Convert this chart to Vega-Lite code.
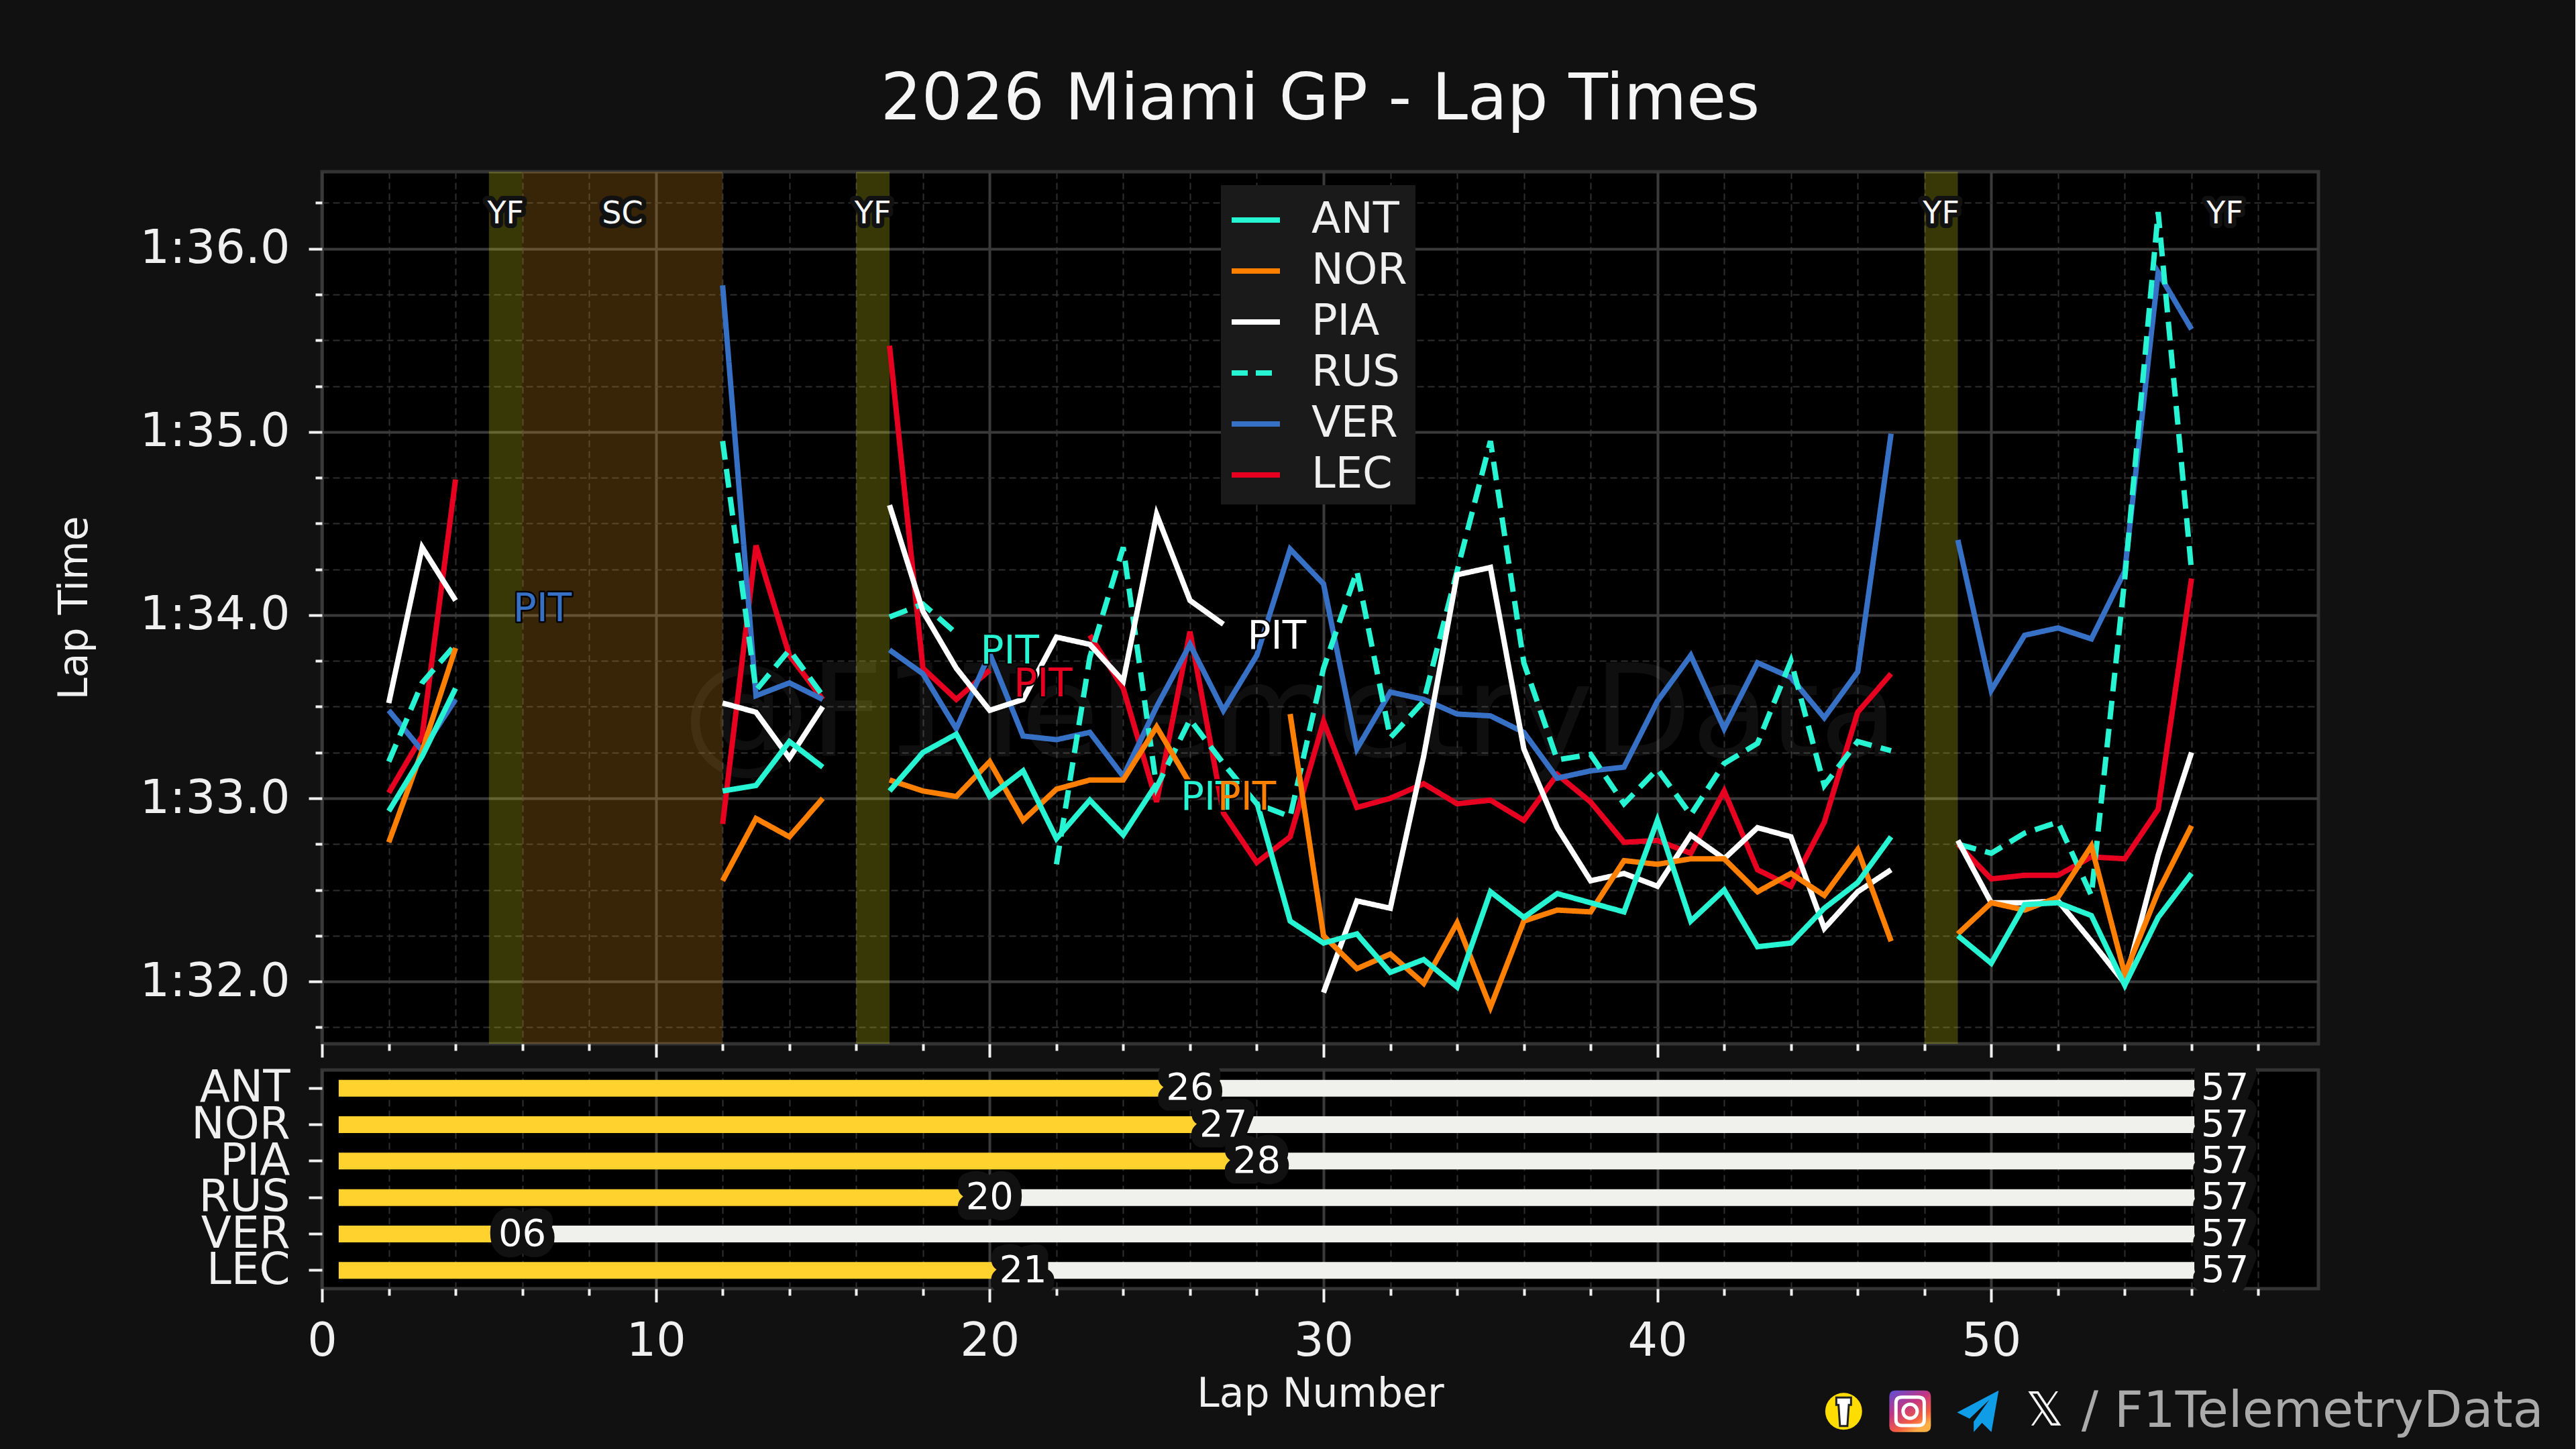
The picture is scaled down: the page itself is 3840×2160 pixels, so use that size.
{
"$schema":"https://vega.github.io/schema/vega-lite/v6.json",
"background":"#111111",
"padding":{"left":78,"top":98,"right":44,"bottom":35},
"config":{"font":"DejaVu Sans","view":{"fill":"#000000","stroke":"#333333","strokeWidth":5},"axis":{"domain":false,"labelColor":"#f0f0f0","titleColor":"#f0f0f0","tickColor":"#f0f0f0","tickWidth":4,"titleFontWeight":"normal","labelLimit":400,"labelFlush":false}},
"spacing":5,
"resolve":{"scale":{"color":"independent"}},
"datasets":{
"laps":[
{"driver":"LEC","stint":1,"lap":2,"t":93.03},{"driver":"LEC","stint":1,"lap":3,"t":93.34},{"driver":"LEC","stint":1,"lap":4,"t":94.74},
{"driver":"LEC","stint":2,"lap":12,"t":92.86},{"driver":"LEC","stint":2,"lap":13,"t":94.38},{"driver":"LEC","stint":2,"lap":14,"t":93.78},{"driver":"LEC","stint":2,"lap":15,"t":93.54},
{"driver":"LEC","stint":3,"lap":17,"t":95.47},{"driver":"LEC","stint":3,"lap":18,"t":93.71},{"driver":"LEC","stint":3,"lap":19,"t":93.54},{"driver":"LEC","stint":3,"lap":20,"t":93.7},
{"driver":"LEC","stint":4,"lap":23,"t":93.89},{"driver":"LEC","stint":4,"lap":24,"t":93.6},{"driver":"LEC","stint":4,"lap":25,"t":92.98},{"driver":"LEC","stint":4,"lap":26,"t":93.91},{"driver":"LEC","stint":4,"lap":27,"t":92.92},{"driver":"LEC","stint":4,"lap":28,"t":92.65},{"driver":"LEC","stint":4,"lap":29,"t":92.79},{"driver":"LEC","stint":4,"lap":30,"t":93.42},{"driver":"LEC","stint":4,"lap":31,"t":92.95},{"driver":"LEC","stint":4,"lap":32,"t":93.0},{"driver":"LEC","stint":4,"lap":33,"t":93.08},{"driver":"LEC","stint":4,"lap":34,"t":92.97},{"driver":"LEC","stint":4,"lap":35,"t":92.99},{"driver":"LEC","stint":4,"lap":36,"t":92.88},{"driver":"LEC","stint":4,"lap":37,"t":93.13},{"driver":"LEC","stint":4,"lap":38,"t":92.98},{"driver":"LEC","stint":4,"lap":39,"t":92.76},{"driver":"LEC","stint":4,"lap":40,"t":92.77},{"driver":"LEC","stint":4,"lap":41,"t":92.7},{"driver":"LEC","stint":4,"lap":42,"t":93.04},{"driver":"LEC","stint":4,"lap":43,"t":92.61},{"driver":"LEC","stint":4,"lap":44,"t":92.52},{"driver":"LEC","stint":4,"lap":45,"t":92.87},{"driver":"LEC","stint":4,"lap":46,"t":93.47},{"driver":"LEC","stint":4,"lap":47,"t":93.68},
{"driver":"LEC","stint":5,"lap":49,"t":92.75},{"driver":"LEC","stint":5,"lap":50,"t":92.56},{"driver":"LEC","stint":5,"lap":51,"t":92.58},{"driver":"LEC","stint":5,"lap":52,"t":92.58},{"driver":"LEC","stint":5,"lap":53,"t":92.68},{"driver":"LEC","stint":5,"lap":54,"t":92.67},{"driver":"LEC","stint":5,"lap":55,"t":92.94},{"driver":"LEC","stint":5,"lap":56,"t":94.2},
{"driver":"VER","stint":1,"lap":2,"t":93.48},{"driver":"VER","stint":1,"lap":3,"t":93.26},{"driver":"VER","stint":1,"lap":4,"t":93.54},
{"driver":"VER","stint":2,"lap":12,"t":95.8},{"driver":"VER","stint":2,"lap":13,"t":93.56},{"driver":"VER","stint":2,"lap":14,"t":93.63},{"driver":"VER","stint":2,"lap":15,"t":93.54},
{"driver":"VER","stint":3,"lap":17,"t":93.81},{"driver":"VER","stint":3,"lap":18,"t":93.68},{"driver":"VER","stint":3,"lap":19,"t":93.38},{"driver":"VER","stint":3,"lap":20,"t":93.79},{"driver":"VER","stint":3,"lap":21,"t":93.34},{"driver":"VER","stint":3,"lap":22,"t":93.32},{"driver":"VER","stint":3,"lap":23,"t":93.36},{"driver":"VER","stint":3,"lap":24,"t":93.12},{"driver":"VER","stint":3,"lap":25,"t":93.5},{"driver":"VER","stint":3,"lap":26,"t":93.84},{"driver":"VER","stint":3,"lap":27,"t":93.48},{"driver":"VER","stint":3,"lap":28,"t":93.78},{"driver":"VER","stint":3,"lap":29,"t":94.36},{"driver":"VER","stint":3,"lap":30,"t":94.17},{"driver":"VER","stint":3,"lap":31,"t":93.27},{"driver":"VER","stint":3,"lap":32,"t":93.58},{"driver":"VER","stint":3,"lap":33,"t":93.54},{"driver":"VER","stint":3,"lap":34,"t":93.46},{"driver":"VER","stint":3,"lap":35,"t":93.45},{"driver":"VER","stint":3,"lap":36,"t":93.36},{"driver":"VER","stint":3,"lap":37,"t":93.11},{"driver":"VER","stint":3,"lap":38,"t":93.15},{"driver":"VER","stint":3,"lap":39,"t":93.17},{"driver":"VER","stint":3,"lap":40,"t":93.53},{"driver":"VER","stint":3,"lap":41,"t":93.78},{"driver":"VER","stint":3,"lap":42,"t":93.38},{"driver":"VER","stint":3,"lap":43,"t":93.74},{"driver":"VER","stint":3,"lap":44,"t":93.66},{"driver":"VER","stint":3,"lap":45,"t":93.44},{"driver":"VER","stint":3,"lap":46,"t":93.69},{"driver":"VER","stint":3,"lap":47,"t":94.99},
{"driver":"VER","stint":4,"lap":49,"t":94.41},{"driver":"VER","stint":4,"lap":50,"t":93.59},{"driver":"VER","stint":4,"lap":51,"t":93.89},{"driver":"VER","stint":4,"lap":52,"t":93.93},{"driver":"VER","stint":4,"lap":53,"t":93.87},{"driver":"VER","stint":4,"lap":54,"t":94.24},{"driver":"VER","stint":4,"lap":55,"t":95.87},{"driver":"VER","stint":4,"lap":56,"t":95.56},
{"driver":"RUS","stint":1,"lap":2,"t":93.2},{"driver":"RUS","stint":1,"lap":3,"t":93.63},{"driver":"RUS","stint":1,"lap":4,"t":93.84},
{"driver":"RUS","stint":2,"lap":12,"t":94.95},{"driver":"RUS","stint":2,"lap":13,"t":93.59},{"driver":"RUS","stint":2,"lap":14,"t":93.81},{"driver":"RUS","stint":2,"lap":15,"t":93.56},
{"driver":"RUS","stint":3,"lap":17,"t":93.99},{"driver":"RUS","stint":3,"lap":18,"t":94.06},{"driver":"RUS","stint":3,"lap":19,"t":93.9},
{"driver":"RUS","stint":4,"lap":22,"t":92.64},{"driver":"RUS","stint":4,"lap":23,"t":93.77},{"driver":"RUS","stint":4,"lap":24,"t":94.37},{"driver":"RUS","stint":4,"lap":25,"t":93.06},{"driver":"RUS","stint":4,"lap":26,"t":93.43},{"driver":"RUS","stint":4,"lap":27,"t":93.19},{"driver":"RUS","stint":4,"lap":28,"t":92.97},{"driver":"RUS","stint":4,"lap":29,"t":92.9},{"driver":"RUS","stint":4,"lap":30,"t":93.71},{"driver":"RUS","stint":4,"lap":31,"t":94.24},{"driver":"RUS","stint":4,"lap":32,"t":93.33},{"driver":"RUS","stint":4,"lap":33,"t":93.53},{"driver":"RUS","stint":4,"lap":34,"t":94.24},{"driver":"RUS","stint":4,"lap":35,"t":94.95},{"driver":"RUS","stint":4,"lap":36,"t":93.74},{"driver":"RUS","stint":4,"lap":37,"t":93.21},{"driver":"RUS","stint":4,"lap":38,"t":93.24},{"driver":"RUS","stint":4,"lap":39,"t":92.97},{"driver":"RUS","stint":4,"lap":40,"t":93.16},{"driver":"RUS","stint":4,"lap":41,"t":92.91},{"driver":"RUS","stint":4,"lap":42,"t":93.19},{"driver":"RUS","stint":4,"lap":43,"t":93.3},{"driver":"RUS","stint":4,"lap":44,"t":93.75},{"driver":"RUS","stint":4,"lap":45,"t":93.07},{"driver":"RUS","stint":4,"lap":46,"t":93.31},{"driver":"RUS","stint":4,"lap":47,"t":93.26},
{"driver":"RUS","stint":5,"lap":49,"t":92.75},{"driver":"RUS","stint":5,"lap":50,"t":92.7},{"driver":"RUS","stint":5,"lap":51,"t":92.81},{"driver":"RUS","stint":5,"lap":52,"t":92.87},{"driver":"RUS","stint":5,"lap":53,"t":92.47},{"driver":"RUS","stint":5,"lap":54,"t":94.2},{"driver":"RUS","stint":5,"lap":55,"t":96.2},{"driver":"RUS","stint":5,"lap":56,"t":94.24},
{"driver":"PIA","stint":1,"lap":2,"t":93.52},{"driver":"PIA","stint":1,"lap":3,"t":94.37},{"driver":"PIA","stint":1,"lap":4,"t":94.08},
{"driver":"PIA","stint":2,"lap":12,"t":93.52},{"driver":"PIA","stint":2,"lap":13,"t":93.47},{"driver":"PIA","stint":2,"lap":14,"t":93.22},{"driver":"PIA","stint":2,"lap":15,"t":93.5},
{"driver":"PIA","stint":3,"lap":17,"t":94.6},{"driver":"PIA","stint":3,"lap":18,"t":94.02},{"driver":"PIA","stint":3,"lap":19,"t":93.71},{"driver":"PIA","stint":3,"lap":20,"t":93.48},{"driver":"PIA","stint":3,"lap":21,"t":93.54},{"driver":"PIA","stint":3,"lap":22,"t":93.88},{"driver":"PIA","stint":3,"lap":23,"t":93.84},{"driver":"PIA","stint":3,"lap":24,"t":93.64},{"driver":"PIA","stint":3,"lap":25,"t":94.55},{"driver":"PIA","stint":3,"lap":26,"t":94.08},{"driver":"PIA","stint":3,"lap":27,"t":93.95},
{"driver":"PIA","stint":4,"lap":30,"t":91.94},{"driver":"PIA","stint":4,"lap":31,"t":92.44},{"driver":"PIA","stint":4,"lap":32,"t":92.4},{"driver":"PIA","stint":4,"lap":33,"t":93.23},{"driver":"PIA","stint":4,"lap":34,"t":94.22},{"driver":"PIA","stint":4,"lap":35,"t":94.26},{"driver":"PIA","stint":4,"lap":36,"t":93.27},{"driver":"PIA","stint":4,"lap":37,"t":92.84},{"driver":"PIA","stint":4,"lap":38,"t":92.55},{"driver":"PIA","stint":4,"lap":39,"t":92.59},{"driver":"PIA","stint":4,"lap":40,"t":92.52},{"driver":"PIA","stint":4,"lap":41,"t":92.8},{"driver":"PIA","stint":4,"lap":42,"t":92.67},{"driver":"PIA","stint":4,"lap":43,"t":92.84},{"driver":"PIA","stint":4,"lap":44,"t":92.79},{"driver":"PIA","stint":4,"lap":45,"t":92.29},{"driver":"PIA","stint":4,"lap":46,"t":92.49},{"driver":"PIA","stint":4,"lap":47,"t":92.61},
{"driver":"PIA","stint":5,"lap":49,"t":92.77},{"driver":"PIA","stint":5,"lap":50,"t":92.43},{"driver":"PIA","stint":5,"lap":51,"t":92.43},{"driver":"PIA","stint":5,"lap":52,"t":92.44},{"driver":"PIA","stint":5,"lap":53,"t":92.22},{"driver":"PIA","stint":5,"lap":54,"t":91.99},{"driver":"PIA","stint":5,"lap":55,"t":92.69},{"driver":"PIA","stint":5,"lap":56,"t":93.25},
{"driver":"NOR","stint":1,"lap":2,"t":92.76},{"driver":"NOR","stint":1,"lap":3,"t":93.26},{"driver":"NOR","stint":1,"lap":4,"t":93.82},
{"driver":"NOR","stint":2,"lap":12,"t":92.55},{"driver":"NOR","stint":2,"lap":13,"t":92.89},{"driver":"NOR","stint":2,"lap":14,"t":92.79},{"driver":"NOR","stint":2,"lap":15,"t":93.0},
{"driver":"NOR","stint":3,"lap":17,"t":93.1},{"driver":"NOR","stint":3,"lap":18,"t":93.04},{"driver":"NOR","stint":3,"lap":19,"t":93.01},{"driver":"NOR","stint":3,"lap":20,"t":93.2},{"driver":"NOR","stint":3,"lap":21,"t":92.88},{"driver":"NOR","stint":3,"lap":22,"t":93.05},{"driver":"NOR","stint":3,"lap":23,"t":93.1},{"driver":"NOR","stint":3,"lap":24,"t":93.1},{"driver":"NOR","stint":3,"lap":25,"t":93.39},{"driver":"NOR","stint":3,"lap":26,"t":93.08},
{"driver":"NOR","stint":4,"lap":29,"t":93.46},{"driver":"NOR","stint":4,"lap":30,"t":92.25},{"driver":"NOR","stint":4,"lap":31,"t":92.07},{"driver":"NOR","stint":4,"lap":32,"t":92.15},{"driver":"NOR","stint":4,"lap":33,"t":91.99},{"driver":"NOR","stint":4,"lap":34,"t":92.32},{"driver":"NOR","stint":4,"lap":35,"t":91.86},{"driver":"NOR","stint":4,"lap":36,"t":92.33},{"driver":"NOR","stint":4,"lap":37,"t":92.39},{"driver":"NOR","stint":4,"lap":38,"t":92.38},{"driver":"NOR","stint":4,"lap":39,"t":92.66},{"driver":"NOR","stint":4,"lap":40,"t":92.64},{"driver":"NOR","stint":4,"lap":41,"t":92.67},{"driver":"NOR","stint":4,"lap":42,"t":92.67},{"driver":"NOR","stint":4,"lap":43,"t":92.49},{"driver":"NOR","stint":4,"lap":44,"t":92.59},{"driver":"NOR","stint":4,"lap":45,"t":92.47},{"driver":"NOR","stint":4,"lap":46,"t":92.72},{"driver":"NOR","stint":4,"lap":47,"t":92.22},
{"driver":"NOR","stint":5,"lap":49,"t":92.26},{"driver":"NOR","stint":5,"lap":50,"t":92.43},{"driver":"NOR","stint":5,"lap":51,"t":92.39},{"driver":"NOR","stint":5,"lap":52,"t":92.46},{"driver":"NOR","stint":5,"lap":53,"t":92.74},{"driver":"NOR","stint":5,"lap":54,"t":92.04},{"driver":"NOR","stint":5,"lap":55,"t":92.49},{"driver":"NOR","stint":5,"lap":56,"t":92.85},
{"driver":"ANT","stint":1,"lap":2,"t":92.93},{"driver":"ANT","stint":1,"lap":3,"t":93.23},{"driver":"ANT","stint":1,"lap":4,"t":93.6},
{"driver":"ANT","stint":2,"lap":12,"t":93.04},{"driver":"ANT","stint":2,"lap":13,"t":93.07},{"driver":"ANT","stint":2,"lap":14,"t":93.31},{"driver":"ANT","stint":2,"lap":15,"t":93.17},
{"driver":"ANT","stint":3,"lap":17,"t":93.04},{"driver":"ANT","stint":3,"lap":18,"t":93.25},{"driver":"ANT","stint":3,"lap":19,"t":93.35},{"driver":"ANT","stint":3,"lap":20,"t":93.01},{"driver":"ANT","stint":3,"lap":21,"t":93.15},{"driver":"ANT","stint":3,"lap":22,"t":92.78},{"driver":"ANT","stint":3,"lap":23,"t":92.99},{"driver":"ANT","stint":3,"lap":24,"t":92.8},{"driver":"ANT","stint":3,"lap":25,"t":93.08},
{"driver":"ANT","stint":4,"lap":28,"t":92.98},{"driver":"ANT","stint":4,"lap":29,"t":92.33},{"driver":"ANT","stint":4,"lap":30,"t":92.21},{"driver":"ANT","stint":4,"lap":31,"t":92.26},{"driver":"ANT","stint":4,"lap":32,"t":92.05},{"driver":"ANT","stint":4,"lap":33,"t":92.12},{"driver":"ANT","stint":4,"lap":34,"t":91.97},{"driver":"ANT","stint":4,"lap":35,"t":92.49},{"driver":"ANT","stint":4,"lap":36,"t":92.35},{"driver":"ANT","stint":4,"lap":37,"t":92.48},{"driver":"ANT","stint":4,"lap":38,"t":92.43},{"driver":"ANT","stint":4,"lap":39,"t":92.38},{"driver":"ANT","stint":4,"lap":40,"t":92.88},{"driver":"ANT","stint":4,"lap":41,"t":92.33},{"driver":"ANT","stint":4,"lap":42,"t":92.5},{"driver":"ANT","stint":4,"lap":43,"t":92.19},{"driver":"ANT","stint":4,"lap":44,"t":92.21},{"driver":"ANT","stint":4,"lap":45,"t":92.4},{"driver":"ANT","stint":4,"lap":46,"t":92.54},{"driver":"ANT","stint":4,"lap":47,"t":92.79},
{"driver":"ANT","stint":5,"lap":49,"t":92.25},{"driver":"ANT","stint":5,"lap":50,"t":92.1},{"driver":"ANT","stint":5,"lap":51,"t":92.42},{"driver":"ANT","stint":5,"lap":52,"t":92.43},{"driver":"ANT","stint":5,"lap":53,"t":92.36},{"driver":"ANT","stint":5,"lap":54,"t":91.98},{"driver":"ANT","stint":5,"lap":55,"t":92.35},{"driver":"ANT","stint":5,"lap":56,"t":92.59}
],
"flags":[
{"flag":"YF","start":5,"end":6,"mid":5.5,"t":96.19},
{"flag":"SC","start":6,"end":12,"mid":9,"t":96.19},
{"flag":"YF","start":16,"end":17,"mid":16.5,"t":96.19},
{"flag":"YF","start":48,"end":49,"mid":48.5,"t":96.19},
{"flag":"YF","start":57,"end":57,"mid":57,"t":96.19}
],
"pits":[
{"driver":"VER","lap":6.6,"t":94.03},
{"driver":"RUS","lap":20.6,"t":93.8},
{"driver":"LEC","lap":21.6,"t":93.62},
{"driver":"ANT","lap":26.6,"t":93.0},
{"driver":"NOR","lap":27.7,"t":93.0},
{"driver":"PIA","lap":28.6,"t":93.88}
],
"bars":[
{"driver":"ANT","part":"before","from":0.5,"to":26},{"driver":"ANT","part":"after","from":26,"to":57},
{"driver":"NOR","part":"before","from":0.5,"to":27},{"driver":"NOR","part":"after","from":27,"to":57},
{"driver":"PIA","part":"before","from":0.5,"to":28},{"driver":"PIA","part":"after","from":28,"to":57},
{"driver":"RUS","part":"before","from":0.5,"to":20},{"driver":"RUS","part":"after","from":20,"to":57},
{"driver":"VER","part":"before","from":0.5,"to":6},{"driver":"VER","part":"after","from":6,"to":57},
{"driver":"LEC","part":"before","from":0.5,"to":21},{"driver":"LEC","part":"after","from":21,"to":57}
],
"barLabels":[
{"driver":"ANT","lap":26,"label":"26"},{"driver":"NOR","lap":27,"label":"27"},{"driver":"PIA","lap":28,"label":"28"},{"driver":"RUS","lap":20,"label":"20"},{"driver":"VER","lap":6,"label":"06"},{"driver":"LEC","lap":21,"label":"21"},
{"driver":"ANT","lap":57,"label":"57"},{"driver":"NOR","lap":57,"label":"57"},{"driver":"PIA","lap":57,"label":"57"},{"driver":"RUS","lap":57,"label":"57"},{"driver":"VER","lap":57,"label":"57"},{"driver":"LEC","lap":57,"label":"57"}
]
},
"vconcat":[
{
"title":{"text":"2026 Miami GP - Lap Times","fontSize":96,"fontWeight":"normal","color":"#f5f5f5","offset":58},
"width":2976,"height":1300,
"resolve":{"axis":{"x":"independent","y":"independent"}},
"layer":[
{"data":{"values":[{"lap":29,"t":93.44,"label":"@F1TelemetryData"}]},
"mark":{"type":"text","fontSize":190,"fill":"#ffffff","opacity":0.06},
"encoding":{"text":{"field":"label"},
"x":{"field":"lap","type":"quantitative","scale":{"domain":[0,59.8],"nice":false,"zero":false},"axis":{"orient":"bottom","title":null,"labels":false,"values":[2,4,6,8,12,14,16,18,22,24,26,28,32,34,36,38,42,44,46,48,52,54,56,58],"tickSize":10,"grid":true,"gridColor":"#2e2e2e","gridWidth":2,"gridDash":[10,6]}},
"y":{"field":"t","type":"quantitative","scale":{"domain":[91.66,96.42],"nice":false,"zero":false},"axis":{"orient":"left","title":null,"labels":false,"values":[91.75,92.25,92.5,92.75,93.25,93.5,93.75,94.25,94.5,94.75,95.25,95.5,95.75,96.25],"tickSize":10,"grid":true,"gridColor":"#2e2e2e","gridWidth":2,"gridDash":[10,6]}}}},
{"data":{"name":"flags"},"transform":[{"filter":"datum.flag == 'YF'"}],
"mark":{"type":"rect","fill":"#ffff22","opacity":0.22},
"encoding":{"x":{"field":"start","type":"quantitative","scale":{"domain":[0,59.8],"nice":false,"zero":false},"axis":null},"x2":{"field":"end"}}},
{"data":{"name":"flags"},"transform":[{"filter":"datum.flag == 'SC'"}],
"mark":{"type":"rect","fill":"#ffaa22","opacity":0.22},
"encoding":{"x":{"field":"start","type":"quantitative","scale":{"domain":[0,59.8],"nice":false,"zero":false},"axis":null},"x2":{"field":"end"}}},
{"data":{"name":"flags"},
"mark":{"type":"text","fontSize":46,"stroke":"#111111","strokeWidth":14,"strokeJoin":"round"},
"encoding":{"text":{"field":"flag"},
"x":{"field":"mid","type":"quantitative","scale":{"domain":[0,59.8],"nice":false,"zero":false},"axis":null},
"y":{"field":"t","type":"quantitative","scale":{"domain":[91.66,96.42],"nice":false,"zero":false},"axis":null}}},
{"data":{"name":"flags"},
"mark":{"type":"text","fontSize":46,"fill":"#f5f5f5"},
"encoding":{"text":{"field":"flag"},
"x":{"field":"mid","type":"quantitative","scale":{"domain":[0,59.8],"nice":false,"zero":false},"axis":null},
"y":{"field":"t","type":"quantitative","scale":{"domain":[91.66,96.42],"nice":false,"zero":false},"axis":null}}},
{"data":{"name":"laps"},
"mark":{"type":"line","strokeWidth":8},
"encoding":{
"x":{"field":"lap","type":"quantitative","scale":{"domain":[0,59.8],"nice":false,"zero":false},"axis":{"orient":"bottom","title":null,"labels":false,"values":[0,10,20,30,40,50],"tickSize":20,"grid":true,"gridColor":"#3a3a3a","gridWidth":4}},
"y":{"field":"t","type":"quantitative","scale":{"domain":[91.66,96.42],"nice":false,"zero":false},"axis":{"orient":"left","title":"Lap Time","titleFontSize":60,"titlePadding":138,"labelFontSize":70,"labelPadding":28,"tickSize":20,"values":[92,93,94,95,96],"labelExpr":"'1:' + format(datum.value - 60, '.1f')","grid":true,"gridColor":"#3a3a3a","gridWidth":4}},
"detail":{"field":"stint"},
"color":{"field":"driver","type":"nominal","scale":{"domain":["ANT","NOR","PIA","RUS","VER","LEC"],"range":["#27F4D2","#FF8000","#FFFFFF","#27F4D2","#3671C6","#E80020"]},
"legend":{"title":null,"orient":"none","legendX":1340,"legendY":20,"fillColor":"#1a1a1a","padding":12,"labelFontSize":64,"labelColor":"#f0f0f0","labelOffset":43,"symbolType":"stroke","symbolSize":5184,"symbolStrokeWidth":8,"rowPadding":4,"encode":{"symbols":{"update":{"strokeDash":{"signal":"datum.value === 'RUS' ? [24, 12] : [1, 0]"}}}}}},
"strokeDash":{"field":"driver","type":"nominal","scale":{"domain":["ANT","NOR","PIA","RUS","VER","LEC"],"range":[[1,0],[1,0],[1,0],[28,14],[1,0],[1,0]]},"legend":null}}},
{"data":{"name":"pits"},
"mark":{"type":"text","fontSize":58,"text":"PIT","stroke":"#000000","strokeWidth":5,"strokeJoin":"round"},
"encoding":{
"x":{"field":"lap","type":"quantitative","scale":{"domain":[0,59.8],"nice":false,"zero":false},"axis":null},
"y":{"field":"t","type":"quantitative","scale":{"domain":[91.66,96.42],"nice":false,"zero":false},"axis":null}}},
{"data":{"name":"pits"},
"mark":{"type":"text","fontSize":58,"text":"PIT"},
"encoding":{
"x":{"field":"lap","type":"quantitative","scale":{"domain":[0,59.8],"nice":false,"zero":false},"axis":null},
"y":{"field":"t","type":"quantitative","scale":{"domain":[91.66,96.42],"nice":false,"zero":false},"axis":null},
"color":{"field":"driver","type":"nominal","legend":null}}}
]
},
{
"width":2976,"height":326,
"resolve":{"axis":{"x":"independent","y":"independent"}},
"layer":[
{"data":{"name":"bars"},
"mark":{"type":"bar"},
"encoding":{
"x":{"field":"from","type":"quantitative","scale":{"domain":[0,59.8],"nice":false,"zero":false},"axis":{"orient":"bottom","title":null,"labels":false,"values":[2,4,6,8,12,14,16,18,22,24,26,28,32,34,36,38,42,44,46,48,52,54,56,58],"tickSize":10,"grid":true,"gridColor":"#2e2e2e","gridWidth":2,"gridDash":[10,6]}},
"x2":{"field":"to"},
"y":{"field":"driver","type":"nominal","scale":{"domain":["ANT","NOR","PIA","RUS","VER","LEC"],"paddingInner":0.54,"paddingOuter":0.27},"axis":{"orient":"left","title":null,"labelFontSize":66,"labelPadding":28,"tickSize":20}},
"color":{"field":"part","type":"nominal","scale":{"domain":["before","after"],"range":["#FFD22E","#F0F0EC"]},"legend":null}}},
{"data":{"name":"barLabels"},
"mark":{"type":"text","fontSize":56,"stroke":"#111111","strokeWidth":32,"strokeJoin":"round"},
"encoding":{"text":{"field":"label"},
"x":{"field":"lap","type":"quantitative","scale":{"domain":[0,59.8],"nice":false,"zero":false},"axis":{"orient":"bottom","title":"Lap Number","titleFontSize":60,"titlePadding":15,"labelFontSize":70,"labelPadding":24,"tickSize":20,"values":[0,10,20,30,40,50],"grid":true,"gridColor":"#3a3a3a","gridWidth":4}},
"y":{"field":"driver","type":"nominal","axis":null,"scale":{"domain":["ANT","NOR","PIA","RUS","VER","LEC"],"paddingInner":0.54,"paddingOuter":0.27}}}},
{"data":{"name":"barLabels"},
"mark":{"type":"text","fontSize":56,"fill":"#ffffff"},
"encoding":{"text":{"field":"label"},
"x":{"field":"lap","type":"quantitative","scale":{"domain":[0,59.8],"nice":false,"zero":false},"axis":null},
"y":{"field":"driver","type":"nominal","axis":null,"scale":{"domain":["ANT","NOR","PIA","RUS","VER","LEC"],"paddingInner":0.54,"paddingOuter":0.27}}}},
{"data":{"values":[{"lap":45.58,"driver":"LEC"}]},
"mark":{"type":"point","shape":"circle","filled":true,"fill":"#FFDD00","opacity":1,"size":3019,"yOffset":210},
"encoding":{"x":{"field":"lap","type":"quantitative","scale":{"domain":[0,59.8],"nice":false,"zero":false},"axis":null},"y":{"field":"driver","type":"nominal","axis":null,"scale":{"domain":["ANT","NOR","PIA","RUS","VER","LEC"],"paddingInner":0.54,"paddingOuter":0.27}}}},
{"data":{"values":[{"lap":45.58,"driver":"LEC"}]},
"mark":{"type":"point","shape":"M-0.4,-0.75L0.4,-0.75L0.4,-0.35L0.28,-0.35L0.2,0.8L-0.2,0.8L-0.28,-0.35L-0.4,-0.35Z","filled":true,"fill":"#ffffff","stroke":"#222222","strokeWidth":3,"opacity":1,"size":3019,"yOffset":210},
"encoding":{"x":{"field":"lap","type":"quantitative","scale":{"domain":[0,59.8],"nice":false,"zero":false},"axis":null},"y":{"field":"driver","type":"nominal","axis":null,"scale":{"domain":["ANT","NOR","PIA","RUS","VER","LEC"],"paddingInner":0.54,"paddingOuter":0.27}}}},
{"data":{"values":[{"lap":47.57,"driver":"LEC"}]},
"mark":{"type":"point","shape":"M-0.7,-1L0.7,-1Q1,-1,1,-0.7L1,0.7Q1,1,0.7,1L-0.7,1Q-1,1,-1,0.7L-1,-0.7Q-1,-1,-0.7,-1Z","filled":true,"opacity":1,"size":3844,"yOffset":210,
"fill":{"gradient":"linear","x1":0,"y1":0,"x2":0.6,"y2":1,"stops":[{"offset":0,"color":"#5B51D8"},{"offset":0.45,"color":"#C13584"},{"offset":0.8,"color":"#F56040"},{"offset":1,"color":"#FCAF45"}]}},
"encoding":{"x":{"field":"lap","type":"quantitative","scale":{"domain":[0,59.8],"nice":false,"zero":false},"axis":null},"y":{"field":"driver","type":"nominal","axis":null,"scale":{"domain":["ANT","NOR","PIA","RUS","VER","LEC"],"paddingInner":0.54,"paddingOuter":0.27}}}},
{"data":{"values":[{"lap":47.57,"driver":"LEC"}]},
"mark":{"type":"point","shape":"M-0.4,-0.68L0.4,-0.68Q0.68,-0.68,0.68,-0.4L0.68,0.4Q0.68,0.68,0.4,0.68L-0.4,0.68Q-0.68,0.68,-0.68,0.4L-0.68,-0.4Q-0.68,-0.68,-0.4,-0.68ZM0.34,0A0.34,0.34,0,1,1,-0.34,0A0.34,0.34,0,1,1,0.34,0Z","filled":false,"stroke":"#ffffff","strokeWidth":5,"opacity":1,"size":3844,"yOffset":210},
"encoding":{"x":{"field":"lap","type":"quantitative","scale":{"domain":[0,59.8],"nice":false,"zero":false},"axis":null},"y":{"field":"driver","type":"nominal","axis":null,"scale":{"domain":["ANT","NOR","PIA","RUS","VER","LEC"],"paddingInner":0.54,"paddingOuter":0.27}}}},
{"data":{"values":[{"lap":49.6,"driver":"LEC"}]},
"mark":{"type":"point","shape":"M1,-1L-1,0.05L-0.4,0.35L0.55,-0.55L-0.2,0.5L-0.2,1L0.2,0.55L0.65,1Z","filled":true,"fill":"#0F9DE8","opacity":1,"size":3844,"yOffset":210},
"encoding":{"x":{"field":"lap","type":"quantitative","scale":{"domain":[0,59.8],"nice":false,"zero":false},"axis":null},"y":{"field":"driver","type":"nominal","axis":null,"scale":{"domain":["ANT","NOR","PIA","RUS","VER","LEC"],"paddingInner":0.54,"paddingOuter":0.27}}}},
{"data":{"values":[{"lap":51.6,"driver":"LEC","label":"𝕏"}]},
"mark":{"type":"text","fontSize":70,"fill":"#f5f5f5","yOffset":210},
"encoding":{"text":{"field":"label"},"x":{"field":"lap","type":"quantitative","scale":{"domain":[0,59.8],"nice":false,"zero":false},"axis":null},"y":{"field":"driver","type":"nominal","axis":null,"scale":{"domain":["ANT","NOR","PIA","RUS","VER","LEC"],"paddingInner":0.54,"paddingOuter":0.27}}}},
{"data":{"values":[{"lap":52.7,"driver":"LEC","label":"/ F1TelemetryData"}]},
"mark":{"type":"text","fontSize":75,"fill":"#aaaaaa","align":"left","yOffset":210},
"encoding":{"text":{"field":"label"},"x":{"field":"lap","type":"quantitative","scale":{"domain":[0,59.8],"nice":false,"zero":false},"axis":null},"y":{"field":"driver","type":"nominal","axis":null,"scale":{"domain":["ANT","NOR","PIA","RUS","VER","LEC"],"paddingInner":0.54,"paddingOuter":0.27}}}}
]
}
]
}
